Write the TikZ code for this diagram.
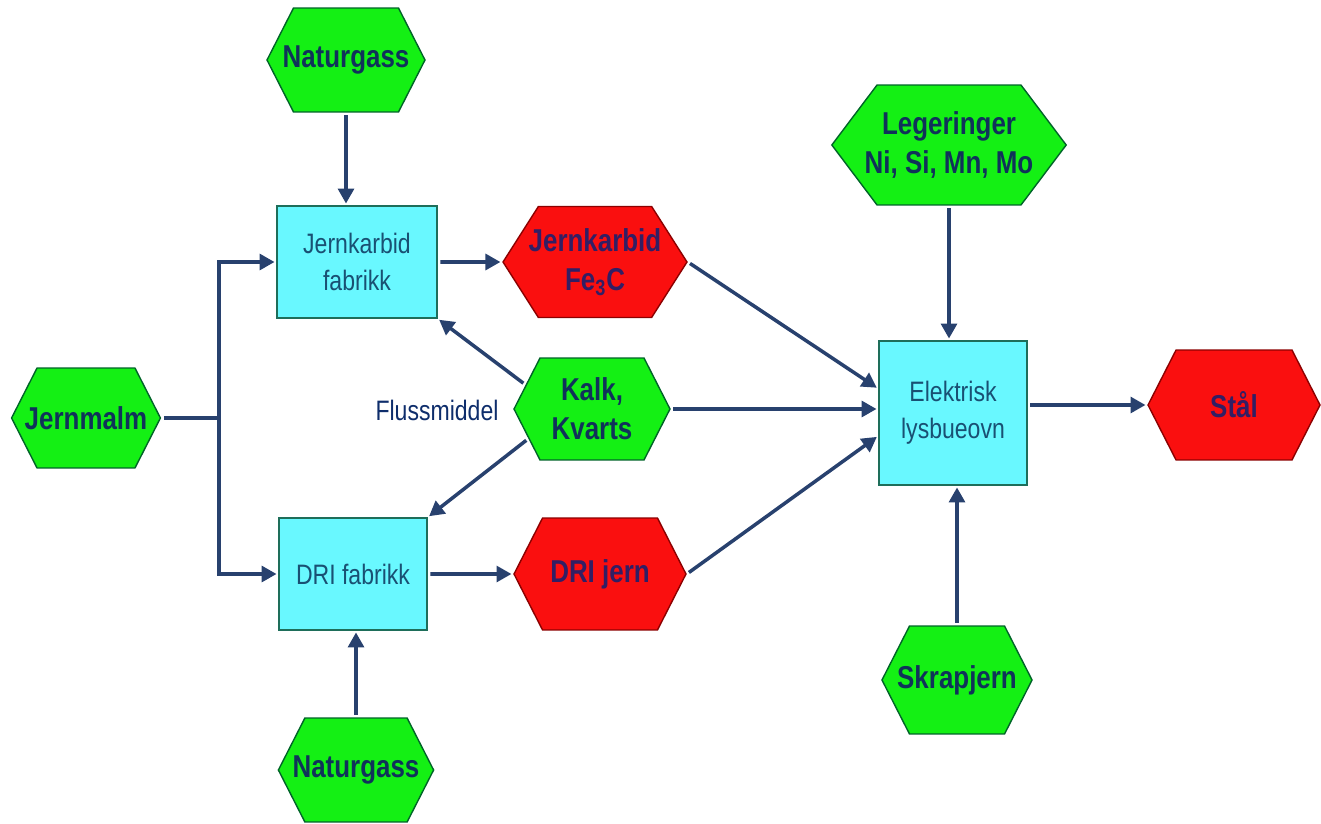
\documentclass[tikz,border=0pt]{standalone}
\usepackage{fontspec}
\setmainfont{Liberation Sans}[FakeStretch=0.82]
\usepackage{tikz}
\usetikzlibrary{shapes.symbols,arrows.meta}

\definecolor{tekst}{RGB}{16,50,90}
\definecolor{rodtekst}{RGB}{50,30,100}
\definecolor{bokstekst}{RGB}{25,80,115}
\definecolor{pilfarge}{RGB}{40,65,110}
\definecolor{gronn}{RGB}{20,240,20}
\definecolor{gronnkant}{RGB}{0,100,40}
\definecolor{rod}{RGB}{250,15,15}
\definecolor{rodkant}{RGB}{140,0,0}
\definecolor{lyscyan}{RGB}{105,248,255}
\definecolor{bokskant}{RGB}{30,110,90}

\begin{document}
\begin{tikzpicture}[x=0.02cm,y=-0.02cm,
  hex/.style={signal, signal to=east and west, signal pointer angle=126, draw,
    line width=0.8pt, align=center, inner xsep=-7pt, inner ysep=0pt,
    font=\fontsize{18}{22}\selectfont\bfseries},
  raw/.style={hex, fill=gronn, draw=gronnkant, text=tekst},
  prod/.style={hex, fill=rod, draw=rodkant, text=rodtekst},
  fab/.style={rectangle, draw=bokskant, fill=lyscyan, line width=0.8pt,
    align=center, text=bokstekst, font=\fontsize{16}{21}\selectfont},
  pil/.style={draw=pilfarge, line width=2pt, -{Triangle[length=8.5pt,width=9pt]},
    shorten <=1.5pt, shorten >=1pt}]
\useasboundingbox (0,0) rectangle (1321,824);

% raavarer og fabrikker
\node[raw, minimum width=3.16cm, minimum height=2.08cm] (ngtop) at (346,60) {Naturgass};
\node[fab, minimum width=3.2cm, minimum height=2.24cm] (jkfab) at (357,262) {Jernkarbid\\fabrikk};
\node[prod, signal pointer angle=115, minimum width=3.68cm, minimum height=2.22cm] (jkprod) at (595,262) {Jernkarbid\\Fe\textsubscript{3}C};
\node[raw, minimum width=2.92cm, minimum height=2.0cm] (malm) at (86,418) {Jernmalm};
\node[raw, minimum width=3.12cm, minimum height=2.04cm] (kalk) at (592,409) {Kalk,\\Kvarts};
\node[text=tekst!90!blue, font=\fontsize{16}{21}\selectfont] (fluss) at (437,410) {Flussmiddel};
\node[fab, minimum width=2.96cm, minimum height=2.24cm] (drifab) at (353,574) {DRI fabrikk};
\node[prod, minimum width=3.44cm, minimum height=2.24cm] (drijern) at (600,574) {DRI jern};
\node[raw, minimum width=2.92cm, minimum height=2.08cm] (ngbot) at (356,770) {Naturgass};

% ovnen
\node[raw, signal pointer angle=106, minimum width=4.56cm, minimum height=2.4cm] (leg) at (949,145) {Legeringer\\Ni, Si, Mn, Mo};
\node[fab, minimum width=2.96cm, minimum height=2.88cm] (eaf) at (953,413) {Elektrisk\\lysbueovn};
\node[prod, minimum width=3.44cm, minimum height=2.2cm] (staal) at (1234,405) {Stål};
\node[raw, minimum width=2.92cm, minimum height=2.16cm] (skrap) at (957,680) {Skrapjern};

\coordinate (delt) at (219,418);

% piler
\draw[pil] (ngtop.south) -- (ngtop.south |- jkfab.north);
\draw[draw=pilfarge, line width=2pt, shorten <=1.5pt] (malm.east) -- (delt);
\draw[pil, shorten <=0pt] (delt) |- (jkfab.west);
\draw[pil, shorten <=0pt] (delt) |- (drifab.west);
\draw[pil] (jkfab) -- (jkprod);
\draw[pil] (kalk.160) -- (jkfab.south east);
\draw[pil] (kalk.205) -- (drifab.north east);
\draw[pil] (kalk.east) -- (kalk.east -| eaf.west);
\draw[pil] (jkprod.east) -- (eaf.162);
\draw[pil] (drijern.east) -- (eaf.197);
\draw[pil] (drifab) -- (drijern);
\draw[pil] (ngbot.north) -- (ngbot.north |- drifab.south);
\draw[pil] (leg.south) -- (leg.south |- eaf.north);
\draw[pil] (skrap.north) -- (skrap.north |- eaf.south);
\draw[pil] (eaf.east |- staal.west) -- (staal.west);
\end{tikzpicture}
\end{document}
